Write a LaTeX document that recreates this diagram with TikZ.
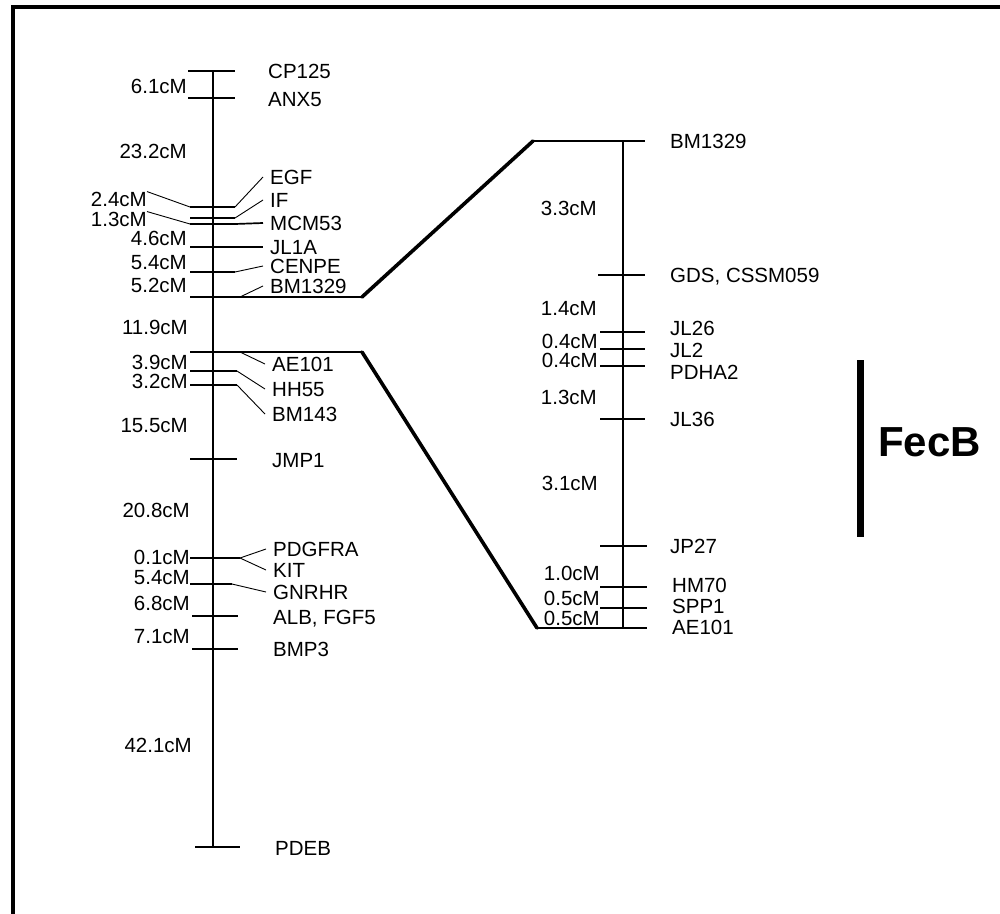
\documentclass[tikz,border=0pt]{standalone}
\usepackage{fontspec}
\newfontfamily\mapfont{Liberation Sans}
\usetikzlibrary{positioning}
\newcommand\mapsize{\mapfont\fontsize{20.5}{24}\selectfont}
\tikzset{
  frameline/.style={line width=4.5pt},
  chrom/.style={line width=2.6pt},
  tickmark/.style={line width=1.7pt},
  leader/.style={line width=0.9pt},
  bridge/.style={line width=3.6pt,line cap=round},
  locus/.style={anchor=west,inner xsep=7pt,inner ysep=0pt,text height=14.5pt,text depth=0pt,font=\mapsize},
  dist/.style={anchor=east,inner sep=0pt,text height=14.5pt,text depth=0pt,font=\mapsize},
  qtl/.style={anchor=west,inner sep=0pt,text height=30pt,text depth=0pt,font=\mapfont\bfseries\fontsize{42}{48}\selectfont},
  qtlbar/.style={line width=7pt}
}
\begin{document}
\begin{tikzpicture}[x=1pt,y=-1pt]
\useasboundingbox (0,0) rectangle (1000,913);
\draw[frameline] (13,920) -- (13,7) -- (1005,7);

% Left chromosome: axis and tick marks (name/y/from/to).
\coordinate (ltop) at (213,71);
\coordinate (lbot) at (213,847);
\draw[chrom] (ltop) -- (lbot);
\foreach \n/\y/\a/\b in {cp/71/188/235, anx/98/188/235, egf/207/190/235, if/218/190/235,
    mcm/224/190/235, jl/247/190/235, cen/272/190/235, bmA/297/190/240, aeA/352/190/240,
    hh/371/190/237, bmc/385/190/237, jmp/459/190/237, pdg/558/190/240, gnr/584/190/232,
    alb/616/192/238, bmp/649/192/238, pdeb/847/195/240}
  \draw[tickmark] (\a,\y) coordinate (\n w) -- (\b,\y) coordinate (\n e);

\node[locus] (lCP) at (261,71) {CP125};
\node[locus] (lANX) at (261,99) {ANX5};
\node[locus] (lEGF) at (263,177) {EGF};
\node[locus] (lIF) at (263,200) {IF};
\node[locus] (lMCM) at (263,223) {MCM53};
\node[locus] (lJL) at (263,247) {JL1A};
\node[locus] (lCEN) at (263,266) {CENPE};
\node[locus] (lBMA) at (263,286) {BM1329};
\node[locus] (lAEA) at (265,364) {AE101};
\node[locus] (lHH) at (265,389) {HH55};
\node[locus] (lBMC) at (265,414) {BM143};
\node[locus] (lJMP) at (265,460) {JMP1};
\node[locus] (lPDG) at (266,549) {PDGFRA};
\node[locus] (lKIT) at (266,570) {KIT};
\node[locus] (lGNR) at (266,592) {GNRHR};
\node[locus] (lALB) at (266,617) {ALB, FGF5};
\node[locus] (lBMP) at (266,649) {BMP3};
\node[locus] (lPDEB) at (268,848) {PDEB};

\draw[leader] (egfe) -- (lEGF.west);
\draw[leader] (ife) -- (lIF.west);
\draw[tickmark] (mcme) -- (lMCM.west);
\draw[tickmark] (jle) -- (lJL.west);
\draw[leader] (cene) -- (lCEN.west);
\draw[leader] (bmAe) -- (lBMA.west);
\draw[leader] (aeAe) -- (lAEA.west);
\draw[leader] (hhe) -- (lHH.west);
\draw[leader] (bmce) -- (lBMC.west);
\draw[leader] (pdge) -- (lPDG.west);
\draw[leader] (pdge) -- (lKIT.west);
\draw[leader] (gnre) -- (lGNR.west);

% Interval lengths on the left.
\node[dist] (d1) at (187,86) {6.1cM};
\node[dist] (d2) at (187,151) {23.2cM};
\node[dist] (d3) at (147,199) {2.4cM};
\node[dist] (d4) at (147,219) {1.3cM};
\node[dist] (d5) at (187,238) {4.6cM};
\node[dist] (d6) at (187,262) {5.4cM};
\node[dist] (d7) at (187,285) {5.2cM};
\node[dist] (d8) at (188,327) {11.9cM};
\node[dist] (d9) at (188,362) {3.9cM};
\node[dist] (d10) at (188,381) {3.2cM};
\node[dist] (d11) at (188,425) {15.5cM};
\node[dist] (d12) at (190,510) {20.8cM};
\node[dist] (d13) at (190,557) {0.1cM};
\node[dist] (d14) at (190,577) {5.4cM};
\node[dist] (d15) at (190,603) {6.8cM};
\node[dist] (d16) at (190,636) {7.1cM};
\node[dist] (d17) at (192,745) {42.1cM};
\draw[leader] (d3.north east) -- (egfw);
\draw[leader] (d4.north east) -- (mcmw);

% Right chromosome (the expanded region).
\coordinate (rtop) at (623,141);
\coordinate (rbot) at (623,628);
\draw[chrom] (rtop) -- (rbot);
\foreach \n/\y/\a/\b in {bmB/141/533/645, gds/275/598/645, jla/332/600/645, jlb/349/600/645,
    pdha/366/600/645, jlc/419/600/645, jp/546/600/647, hm/587/600/647, spp/608/600/647,
    aeB/628/537/647}
  \draw[tickmark] (\a,\y) coordinate (\n w) -- (\b,\y) coordinate (\n e);

\node[locus] (rBM) at (663,141) {BM1329};
\node[locus] (rGDS) at (663,275) {GDS, CSSM059};
\node[locus] (rJLa) at (663,328) {JL26};
\node[locus] (rJLb) at (663,350) {JL2};
\node[locus] (rPDHA) at (663,372) {PDHA2};
\node[locus] (rJLc) at (663,419) {JL36};
\node[locus] (rJP) at (663,546) {JP27};
\node[locus] (rHM) at (665,585) {HM70};
\node[locus] (rSPP) at (665,606) {SPP1};
\node[locus] (rAE) at (665,627) {AE101};

\node[dist] (e1) at (597,208) {3.3cM};
\node[dist] (e2) at (597,308) {1.4cM};
\node[dist] (e3) at (598,341) {0.4cM};
\node[dist] (e4) at (598,360) {0.4cM};
\node[dist] (e5) at (597,397) {1.3cM};
\node[dist] (e6) at (598,483) {3.1cM};
\node[dist] (e7) at (600,573) {1.0cM};
\node[dist] (e8) at (600,598) {0.5cM};
\node[dist] (e9) at (600,618) {0.5cM};

% Zoom lines between BM1329 and AE101.
\coordinate (bmAk) at (362,297);
\coordinate (aeAk) at (362,352);
\draw[tickmark] (bmAe) -- (bmAk);
\draw[tickmark] (aeAe) -- (aeAk);
\draw[bridge] (bmAk) -- (bmBw);
\draw[bridge] (aeAk) -- (aeBw);

% QTL bar.
\coordinate (fecTop) at (860,360);
\coordinate (fecBot) at (860,537);
\draw[qtlbar] (fecTop) -- (fecBot);
\node[qtl] (fec) at (878,441) {FecB};
\end{tikzpicture}
\end{document}
